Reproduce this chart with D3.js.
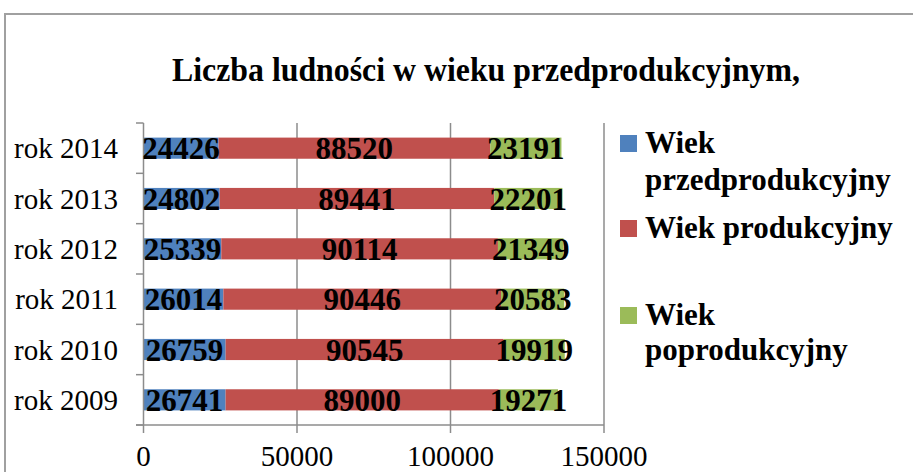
<!DOCTYPE html>
<html><head><meta charset="utf-8">
<script src="https://cdn.jsdelivr.net/npm/d3@7"></script>
<style>html,body{margin:0;padding:0;background:#fff;overflow:hidden}</style>
</head><body>
<svg id="c" width="913" height="472"></svg>
<script>
const title = "Liczba ludności w wieku przedprodukcyjnym,";
const categories = ["rok 2009","rok 2010","rok 2011","rok 2012","rok 2013","rok 2014"];
const seriesNames = ["Wiek przedprodukcyjny","Wiek produkcyjny","Wiek poprodukcyjny"];
const przed = [26741, 26759, 26014, 25339, 24802, 24426];
const prod = [89000, 90545, 90446, 90114, 89441, 88520];
const popr = [19271, 19919, 20583, 21349, 22201, 23191];
const xTicks = [0, 50000, 100000, 150000];
const colors = ["#4F81BD","#C0504D","#9BBB59"];

const svg = d3.select("#c");
const serif = "'Liberation Serif','Times New Roman',serif";
const grey = "#8c8c8c";

function boldText(sel){
  return sel.attr("font-family",serif).attr("font-weight","bold").attr("fill","#000");
}

// outer frame (extends beyond the picture on right/bottom)
svg.append("rect").attr("x",5).attr("y",14).attr("width",1000).attr("height",600)
  .attr("fill","none").attr("stroke","#a0a0a0").attr("stroke-width",2);

boldText(svg.append("text").attr("x",172).attr("y",81)
  .attr("font-size",34).attr("textLength",628).attr("lengthAdjust","spacingAndGlyphs")
  .text(title));

const x = d3.scaleLinear().domain([0,150000]).range([143.5,604]);
const y = d3.scaleBand().domain(categories.slice().reverse()).range([123,425])
  .paddingInner(0.58).paddingOuter(0.29);
const band = (425-123)/categories.length;

const rows = categories.map((c,i)=>({cat:c, vals:[przed[i],prod[i],popr[i]]}));
const stack = d3.stack().keys([0,1,2]).value((d,k)=>d.vals[k]);
const layers = stack(rows);

// gridlines
svg.append("g").selectAll("line").data(xTicks.slice(1)).join("line")
  .attr("x1",d=>x(d)).attr("x2",d=>x(d)).attr("y1",123).attr("y2",425)
  .attr("stroke",grey).attr("stroke-width",1.5);

// bars
layers.forEach((layer,k)=>{
  svg.append("g").selectAll("rect").data(layer).join("rect")
    .attr("x",d=>x(d[0])).attr("width",d=>x(d[1])-x(d[0]))
    .attr("y",d=>y(d.data.cat)).attr("height",y.bandwidth())
    .attr("fill",colors[k]);
});

// axes
const yAxisTicks = d3.range(categories.length+1).map(i=>123+i*band);
svg.append("line").attr("x1",143.5).attr("x2",143.5).attr("y1",123).attr("y2",425)
  .attr("stroke",grey).attr("stroke-width",1.5);
svg.append("g").selectAll("line").data(yAxisTicks).join("line")
  .attr("x1",136).attr("x2",143.5).attr("y1",d=>d).attr("y2",d=>d)
  .attr("stroke",grey).attr("stroke-width",1.5);
svg.append("line").attr("x1",136).attr("x2",x(150000)).attr("y1",425).attr("y2",425)
  .attr("stroke",grey).attr("stroke-width",1.5);
svg.append("g").selectAll("line").data(xTicks).join("line")
  .attr("x1",d=>x(d)).attr("x2",d=>x(d)).attr("y1",425).attr("y2",433)
  .attr("stroke",grey).attr("stroke-width",1.5);

// tick labels
svg.append("g").selectAll("text").data(xTicks).join("text")
  .attr("x",d=>x(d)).attr("y",466).attr("text-anchor","middle")
  .attr("font-family",serif).attr("font-size",29).text(d=>d);
svg.append("g").selectAll("text").data(categories).join("text")
  .attr("x",118).attr("y",d=>y(d)+y.bandwidth()/2+10).attr("text-anchor","end")
  .attr("font-family",serif).attr("font-size",29).text(d=>d);

// data labels
layers.forEach((layer,k)=>{
  boldText(svg.append("g").selectAll("text").data(layer).join("text")
    .attr("x",d=>(x(d[0])+x(d[1]))/2).attr("y",d=>y(d.data.cat)+y.bandwidth()/2+11)
    .attr("text-anchor","middle")
    .attr("font-size",31).text(d=>d.data.vals[k]));
});

// legend
const leg = [
  {lines:["Wiek","przedprodukcyjny"], sy:135, ty:[153,190]},
  {lines:["Wiek produkcyjny"], sy:220, ty:[238]},
  {lines:["Wiek","poprodukcyjny"], sy:307, ty:[325,360]}
];
leg.forEach((l,k)=>{
  svg.append("rect").attr("x",620).attr("y",l.sy).attr("width",17).attr("height",17).attr("fill",colors[k]);
  l.lines.forEach((t,j)=>{
    boldText(svg.append("text").attr("x",645).attr("y",l.ty[j])
      .attr("font-size",31).text(t));
  });
});
</script>
</body></html>
